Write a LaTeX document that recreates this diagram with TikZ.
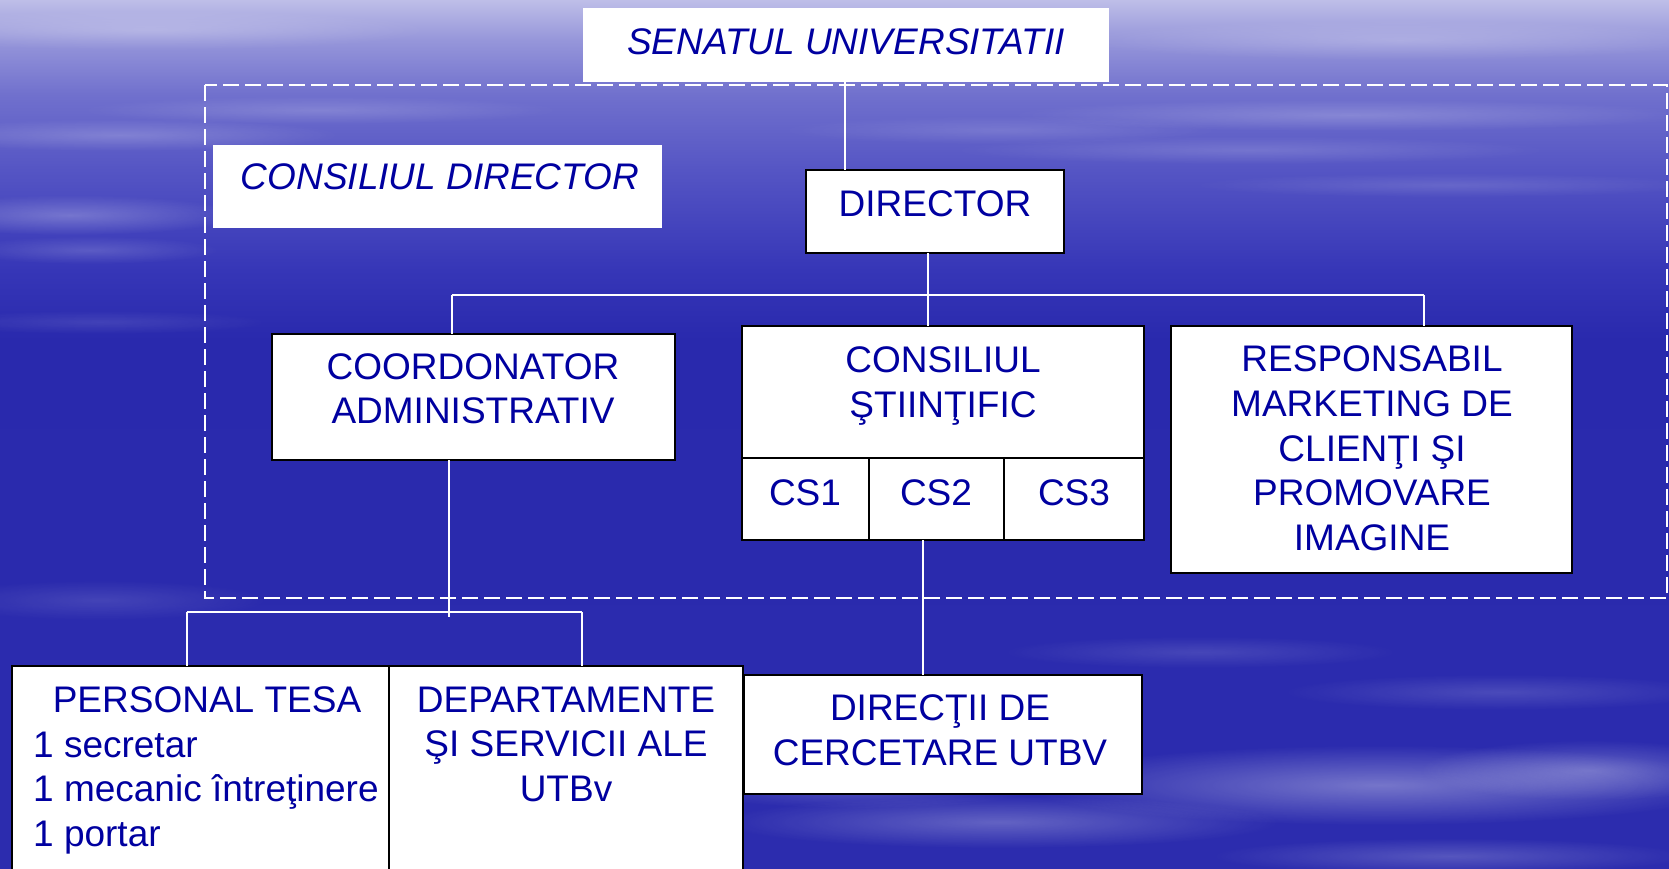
\documentclass[tikz,border=0pt]{standalone}
\usepackage{fontspec}
\setmainfont{Liberation Sans}
\usetikzlibrary{fadings}
\definecolor{txtblue}{RGB}{0,0,160}
\definecolor{bg0}{RGB}{190,190,232}
\definecolor{bg1}{RGB}{150,150,218}
\definecolor{bg2}{RGB}{112,112,205}
\definecolor{bg3}{RGB}{85,85,196}
\definecolor{bg4}{RGB}{54,54,183}
\definecolor{bg5}{RGB}{41,41,173}
\definecolor{bg6}{RGB}{44,44,174}
\tikzfading[name=softoval, inner color=transparent!0, outer color=transparent!100]
\newcommand\mystrut{\rule{0pt}{30pt}}
\newcommand\streak[4]{\fill[white, opacity=#4, path fading=softoval] (#1) ellipse (#2pt and #3pt);}
\begin{document}
\begin{tikzpicture}[x=1pt,y=-1pt,
  box/.style={draw=black, line width=2pt, fill=white, inner sep=0pt, outer sep=0pt, anchor=north west},
  plainbox/.style={fill=white, inner sep=0pt, outer sep=0pt, anchor=north west},
  txt/.style={font=\fontsize{37}{44.7}\selectfont, text=txtblue, inner sep=0pt, align=center, anchor=north},
  itxt/.style={txt, font=\fontsize{37}{44.7}\selectfont\itshape},
  conn/.style={draw=white, line width=1.5pt}]
\useasboundingbox (0,0) rectangle (1669,868);
\clip (0,0) rectangle (1669,868);
% background
\shade[top color=bg0, bottom color=bg1] (0,0) rectangle (1669,40);
\shade[top color=bg1, bottom color=bg2] (0,40) rectangle (1669,95);
\shade[top color=bg2, bottom color=bg3] (0,95) rectangle (1669,170);
\shade[top color=bg3, bottom color=bg4] (0,170) rectangle (1669,270);
\shade[top color=bg4, bottom color=bg5] (0,270) rectangle (1669,340);
\shade[top color=bg5, bottom color=bg6] (0,340) rectangle (1669,868);
% streaks
\streak{150,30}{280}{20}{0.22}
\streak{1400,40}{320}{20}{0.22}
\streak{120,135}{220}{16}{0.2}
\streak{70,215}{170}{20}{0.25}
\streak{90,250}{130}{14}{0.16}
\streak{320,110}{240}{14}{0.16}
\streak{1350,115}{340}{16}{0.2}
\streak{1250,150}{300}{14}{0.15}
\streak{1450,185}{260}{12}{0.13}
\streak{1000,130}{220}{14}{0.13}
\streak{100,322}{170}{12}{0.1}
\streak{100,600}{170}{20}{0.12}
\streak{1380,785}{360}{40}{0.35}
\streak{1590,770}{170}{30}{0.28}
\streak{1200,652}{200}{16}{0.13}
\streak{1500,692}{220}{18}{0.15}
\streak{1000,822}{280}{26}{0.26}
\streak{1450,856}{240}{18}{0.2}
\streak{860,790}{170}{18}{0.17}
% dashed frame of the council
\draw[white, line width=2pt, dash pattern=on 16pt off 6pt] (205,85) rectangle (1667,598);
% boxes
\node[plainbox, minimum width=526pt, minimum height=74pt] (sen) at (583,8) {};
\node[plainbox, minimum width=449pt, minimum height=83pt] (cd) at (213,145) {};
\node[box, minimum width=258pt, minimum height=83pt] (dir) at (806,170) {};
\node[box, minimum width=403pt, minimum height=126pt] (coord) at (272,334) {};
\node[box, minimum width=402pt, minimum height=132pt] (cst) at (742,326) {};
\node[box, minimum width=127pt, minimum height=82pt] (cs1) at (742,458) {};
\node[box, minimum width=135pt, minimum height=82pt] (cs2) at (869,458) {};
\node[box, minimum width=140pt, minimum height=82pt] (cs3) at (1004,458) {};
\node[box, minimum width=401pt, minimum height=247pt] (resp) at (1171,326) {};
\node[box, minimum width=377pt, minimum height=250pt] (pers) at (12,666) {};
\node[box, minimum width=354pt, minimum height=250pt] (dept) at (389,666) {};
\node[box, minimum width=398pt, minimum height=119pt] (dir2) at (744,675) {};
% texts
\node[itxt] (senT) at (846,24) {\mystrut SENATUL UNIVERSITATII};
\node[itxt] (cdT) at (440,159) {\mystrut CONSILIUL DIRECTOR};
\node[txt] (dirT) at (935,186) {\mystrut DIRECTOR};
\node[txt] (coordT) at (473,349) {\mystrut COORDONATOR\\ADMINISTRATIV};
\node[txt] (cstT) at (943,342.5) {\mystrut CONSILIUL\\ŞTIINŢIFIC};
\node[txt] (cs1T) at (805,475.6) {\mystrut CS1};
\node[txt] (cs2T) at (936,475.6) {\mystrut CS2};
\node[txt] (cs3T) at (1074,475.6) {\mystrut CS3};
\node[txt] (respT) at (1372,341.5) {\mystrut RESPONSABIL\\MARKETING DE\\CLIENŢI ŞI\\PROMOVARE\\IMAGINE};
\node[txt] (persT) at (207,682) {\mystrut PERSONAL TESA};
\node[txt, align=left, anchor=north west] (persL) at (33,727) {\mystrut 1 secretar\\1 mecanic întreţinere\\1 portar};
\node[txt] (deptT) at (566,682) {\mystrut DEPARTAMENTE\\ŞI SERVICII ALE\\UTBv};
\node[txt] (dir2T) at (940,690.6) {\mystrut DIRECŢII DE\\CERCETARE UTBV};
% junction coordinates
\coordinate (jSen) at (845,0);
\coordinate (barL) at (452,295);
\coordinate (barM) at (928,295);
\coordinate (barR) at (1424,295);
\coordinate (bar2M) at (449,617);
\coordinate (bar2L) at (187,612);
\coordinate (bar2R) at (582,612);
\coordinate (jCs) at (923,0);
% connectors
\draw[conn] (sen.south -| jSen) -- (dir.north -| jSen);
\draw[conn] (dir.south -| barM) -- (barM);
\draw[conn] (barL) -- (barR);
\draw[conn] (barL) -- (coord.north -| barL);
\draw[conn] (barM) -- (cst.north -| barM);
\draw[conn] (barR) -- (resp.north -| barR);
\draw[conn] (coord.south -| bar2M) -- (bar2M);
\draw[conn] (bar2L) -- (bar2R);
\draw[conn] (bar2L) -- (pers.north -| bar2L);
\draw[conn] (bar2R) -- (dept.north -| bar2R);
\draw[conn] (cs2.south -| jCs) -- (dir2.north -| jCs);
\end{tikzpicture}
\end{document}
